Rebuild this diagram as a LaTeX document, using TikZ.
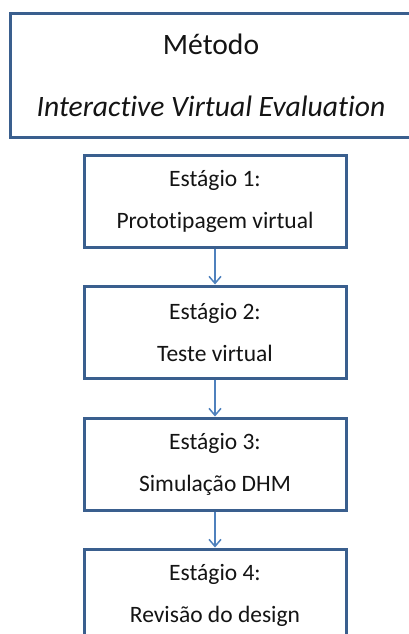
\documentclass[tikz,border=0pt]{standalone}
\usepackage{fontspec}
\setmainfont{Carlito}[Ligatures={NoCommon,NoRare}]
\usetikzlibrary{arrows.meta}
\definecolor{boxline}{HTML}{3A5F8E}
\definecolor{arrowblue}{HTML}{4F81BD}
\definecolor{txt}{HTML}{141414}
\begin{document}
\begin{tikzpicture}[x=1pt,y=-1pt,
  topbox/.style={draw=boxline, line width=3pt, rectangle, fill=white,
    minimum width=402pt, minimum height=123pt, inner sep=0pt, align=center,
    text=txt, font=\fontsize{29.6}{62}\selectfont},
  stagebox/.style={draw=boxline, line width=3pt, rectangle, fill=white,
    minimum width=262pt, minimum height=92pt, inner sep=0pt, align=center,
    text=txt, font=\fontsize{23.5}{42}\selectfont},
  flow/.style={draw=arrowblue, line width=1.5pt,
    -{Straight Barb[length=7pt,width=12pt]}}]
\useasboundingbox (0,0) rectangle (408,634);
\node[topbox] (top) at (211,75.5) {Método\\\textit{Interactive Virtual Evaluation}};
\node[stagebox] (s1) at (215,201) {Estágio 1:\\Prototipagem virtual};
\node[stagebox] (s2) at (215,332) {Estágio 2:\\Teste virtual};
\node[stagebox] (s3) at (215,464) {Estágio 3:\\Simulação DHM};
\node[stagebox] (s4) at (215,595) {Estágio 4:\\Revisão do design};
\draw[flow] (s1.south) -- (s2.north);
\draw[flow] (s2.south) -- (s3.north);
\draw[flow] (s3.south) -- (s4.north);
\end{tikzpicture}
\end{document}
